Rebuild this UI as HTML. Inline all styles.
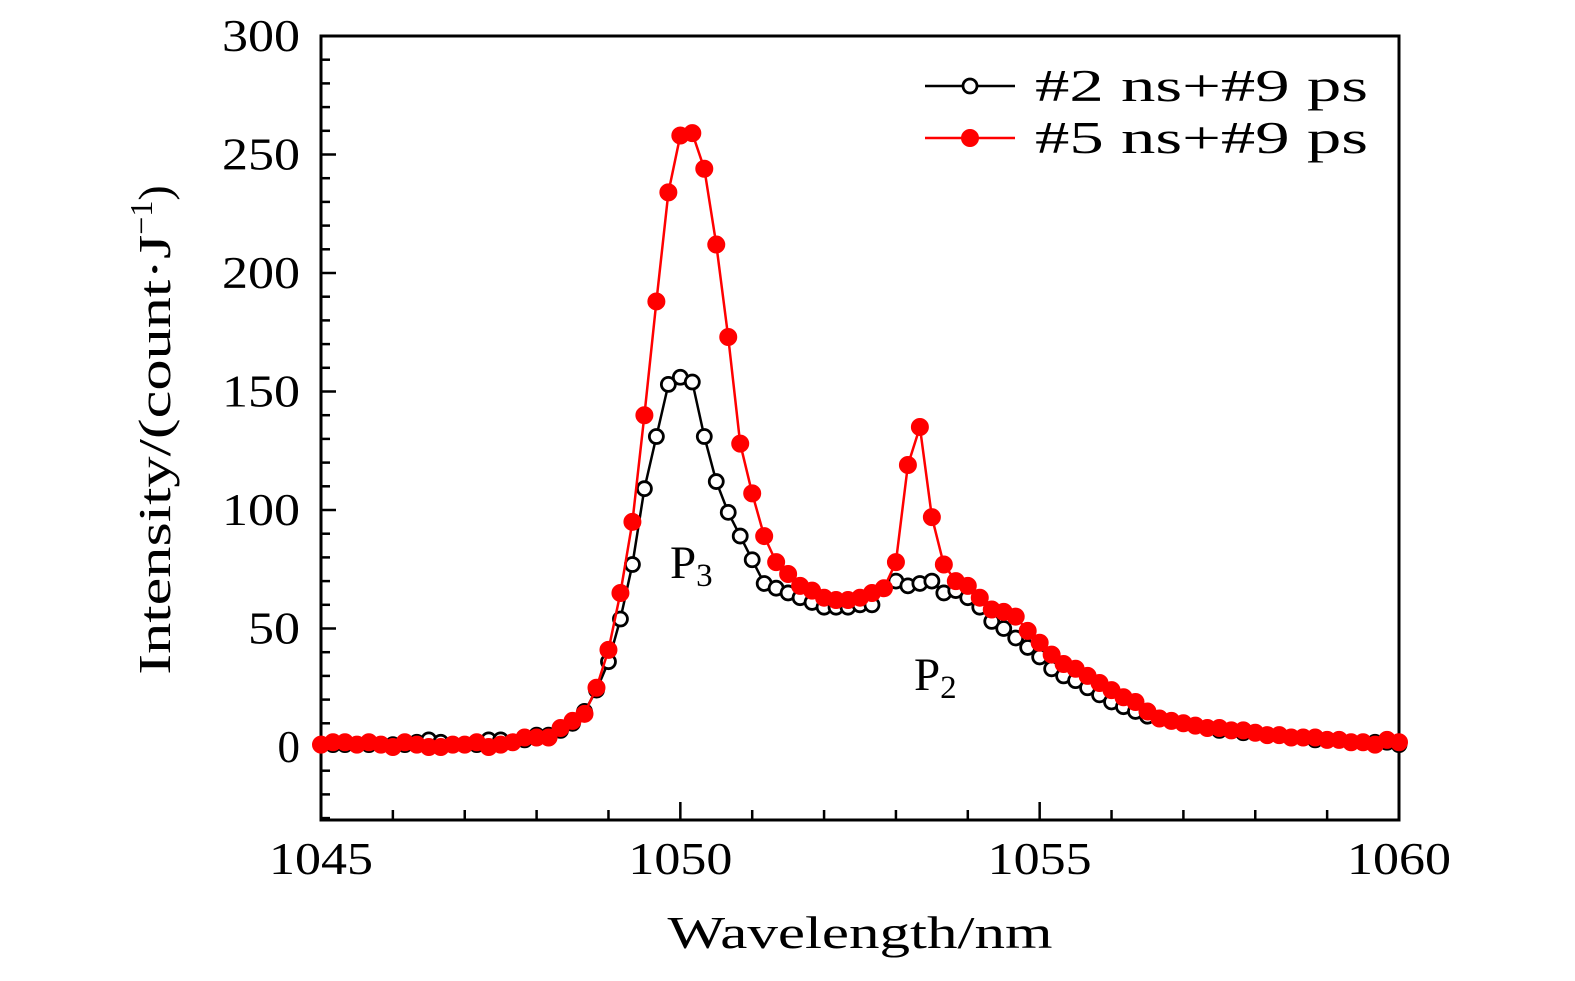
<!DOCTYPE html>
<html><head><meta charset="utf-8"><style>
body{margin:0;background:#fff;}
svg text{font-family:"Liberation Serif",serif;fill:#000;}
</style></head><body>
<svg width="1575" height="976" viewBox="0 0 1575 976" xmlns="http://www.w3.org/2000/svg">
<g id="plot"></g>
</svg>
<script>
const xStart = 1045;
const xStep = 1/6;
const seriesBlack = [1,1,1,1,1,1,1,1,2,3,2,1,1,1,3,3,2,3,5,5,7,10,15,24,36,54,77,109,131,153,156,154,131,112,99,89,79,69,67,65,63,61,59,59,59,60,60,67,70,68,69,70,65,66,63,59,53,50,46,42,38,33,30,28,25,22,19,17,15,13,12,11,10,9,8,7,7,6,6,5,5,4,4,3,3,3,2,2,2,2,1];
const seriesRed = [1,2,2,1,2,1,0,2,1,0,0,1,1,2,0,1,2,4,4,4,8,11,14,25,41,65,95,140,188,234,258,259,244,212,173,128,107,89,78,73,68,66,63,62,62,63,65,67,78,119,135,97,77,70,68,63,58,57,55,49,44,39,35,33,30,27,24,21,19,15,12,11,10,9,8,8,7,7,6,5,5,4,4,4,3,3,2,2,1,3,2];
const xTicks = [1045,1050,1055,1060];
const yTicks = [0,50,100,150,200,250,300];
const legendLabels = ["#2 ns+#9 ps","#5 ns+#9 ps"];

const L=321,R=1399,T=36,B=820;
const X=v=>L+(v-1045)/15*(R-L);
const Y=v=>747-v*(747-36)/300;
const NS="http://www.w3.org/2000/svg";
const g=document.getElementById('plot');
function mk(tag,attrs,parent){const e=document.createElementNS(NS,tag);for(const k in attrs)e.setAttribute(k,attrs[k]);(parent||g).appendChild(e);return e;}

let fr=mk('rect',{x:L,y:T,width:R-L,height:B-T,fill:'none',stroke:'#000','stroke-width':3});


for(let v=1045;v<=1060;v+=1){
  const major=(v%5===0);
  const t=mk('line',{x1:X(v),x2:X(v),y1:B,y2:B-(major?18:10),stroke:'#000','stroke-width':2.5});
  
  
}
xTicks.forEach(v=>{
  const t=mk('text',{x:X(v),y:874,'font-size':45,'text-anchor':'middle',textLength:104,lengthAdjust:'spacingAndGlyphs'});t.textContent=v;
  
  
});
for(let v=-30;v<=300;v+=10){
  const major=(v%50===0);
  const t=mk('line',{x1:L,x2:L+(major?15:9),y1:Y(v),y2:Y(v),stroke:'#000','stroke-width':2.5});
  
  
}
yTicks.forEach(v=>{
  const s=String(v);
  const attrs={x:300,y:Y(v)+15,'font-size':45,'text-anchor':'end'};
  if(s.length>1){attrs.textLength=s.length*26;attrs.lengthAdjust='spacingAndGlyphs';}
  const t=mk('text',attrs);t.textContent=s;
  
  
});
let xt=mk('text',{x:860,y:948,'font-size':46,'text-anchor':'middle',textLength:385,lengthAdjust:'spacingAndGlyphs'});xt.textContent='Wavelength/nm';


let yt=mk('text',{x:0,y:0,'font-size':46,'text-anchor':'middle',transform:'translate(170,430) rotate(-90)'});
yt.innerHTML='<tspan textLength="440" lengthAdjust="spacingAndGlyphs">Intensity/(count·J</tspan><tspan dy="-18" font-size="32">−1</tspan><tspan dy="18">)</tspan>';



function drawSeries(vals,color,filled,name){
  const pts=vals.map((v,i)=>X(xStart+i*xStep).toFixed(1)+','+Y(v).toFixed(1)).join(' ');
  const pl=mk('polyline',{points:pts,fill:'none',stroke:color,'stroke-width':2.5});
  
  
  vals.forEach((v,i)=>{
    const c=mk('circle',{cx:X(xStart+i*xStep),cy:Y(v),r:filled?8.5:7,fill:filled?color:'#fff',stroke:color,'stroke-width':filled?1:2.8});
    
    
  });
}
drawSeries(seriesBlack,'#000',false,'series-2ns');
drawSeries(seriesRed,'#f00',true,'series-5ns');

let p3=mk('text',{x:670,y:578,'font-size':47});p3.innerHTML='P<tspan dy="8" font-size="33">3</tspan>';


let p2=mk('text',{x:914,y:690,'font-size':47});p2.innerHTML='P<tspan dy="8" font-size="33">2</tspan>';



[[86,'#000',false],[138,'#f00',true]].forEach((d,i)=>{
  const ln=mk('line',{x1:925,x2:1015,y1:d[0],y2:d[0],stroke:d[1],'stroke-width':2.5});
  
  
  const c=mk('circle',{cx:970,cy:d[0],r:d[2]?8.5:7,fill:d[2]?d[1]:'#fff',stroke:d[1],'stroke-width':d[2]?1:2.8});
  
  
  const t=mk('text',{x:1035,y:d[0]+15,'font-size':45,textLength:333,lengthAdjust:'spacingAndGlyphs'});t.textContent=legendLabels[i];
  
  
});
</script>
</body></html>
